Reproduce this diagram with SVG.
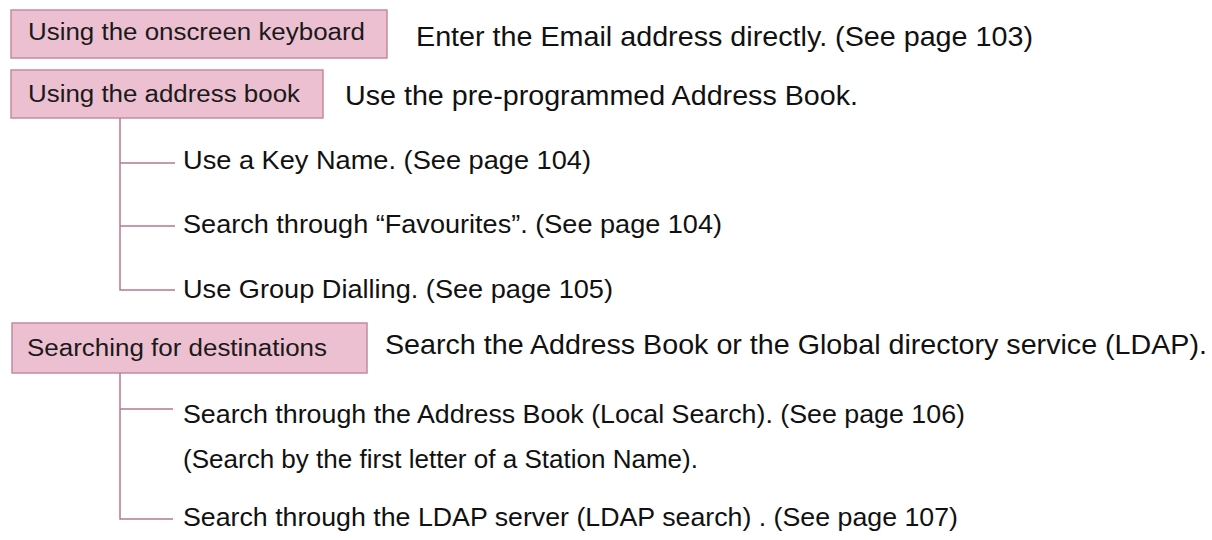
<svg xmlns="http://www.w3.org/2000/svg" width="1212" height="540" viewBox="0 0 1212 540">
<style>
.box{fill:#ecc0d0;stroke:#c48aa0;stroke-width:1.5}
.bt{font-family:"Liberation Sans",Arial,sans-serif;font-size:23px;fill:#1a1a1a}
.mt{font-family:"Liberation Sans",Arial,sans-serif;font-size:27.5px;fill:#111}
.st{font-family:"Liberation Sans",Arial,sans-serif;font-size:25px;fill:#111}
.ln{fill:none;stroke:#b47890;stroke-width:1.5}
</style>
<rect width="1212" height="540" fill="#fff"/>
<g id="onscreen">
<rect class="box" x="11" y="10" width="376" height="48"/>
<text class="bt" x="28" y="40" textLength="337" lengthAdjust="spacingAndGlyphs">Using the onscreen keyboard</text>
</g>
<g id="onscreen-desc">
<text class="mt" x="416" y="46" textLength="617" lengthAdjust="spacingAndGlyphs">Enter the Email address directly. (See page 103)</text>
</g>
<g id="addressbook">
<rect class="box" x="11" y="70" width="312" height="48"/>
<text class="bt" x="28" y="102" textLength="272" lengthAdjust="spacingAndGlyphs">Using the address book</text>
</g>
<g id="addressbook-desc">
<text class="mt" x="345" y="105" textLength="513" lengthAdjust="spacingAndGlyphs">Use the pre-programmed Address Book.</text>
</g>
<g id="keyname"><text class="st" x="183" y="169" textLength="408" lengthAdjust="spacingAndGlyphs">Use a Key Name. (See page 104)</text></g>
<g id="favourites"><text class="st" x="183" y="233" textLength="539" lengthAdjust="spacingAndGlyphs">Search through “Favourites”. (See page 104)</text></g>
<g id="group"><text class="st" x="183" y="298" textLength="430" lengthAdjust="spacingAndGlyphs">Use Group Dialling. (See page 105)</text></g>
<g id="searching">
<rect class="box" x="12" y="323" width="355" height="50"/>
<text class="bt" x="27" y="356" textLength="300" lengthAdjust="spacingAndGlyphs">Searching for destinations</text>
</g>
<g id="searching-desc">
<text class="mt" x="385" y="354" textLength="822" lengthAdjust="spacingAndGlyphs">Search the Address Book or the Global directory service (LDAP).</text>
</g>
<g id="local">
<text class="st" x="183" y="423" textLength="782" lengthAdjust="spacingAndGlyphs">Search through the Address Book (Local Search). (See page 106)</text>
<text class="st" x="183" y="468" textLength="515" lengthAdjust="spacingAndGlyphs">(Search by the first letter of a Station Name).</text>
</g>
<g id="ldap"><text class="st" x="183" y="526" textLength="775" lengthAdjust="spacingAndGlyphs">Search through the LDAP server (LDAP search) . (See page 107)</text></g>
<g id="connectors">
<path class="ln" d="M120 118V290H175M120 163H175M120 226H175"/>
<path class="ln" d="M120 373V519H173M120 409H173"/>
</g>
</svg>
